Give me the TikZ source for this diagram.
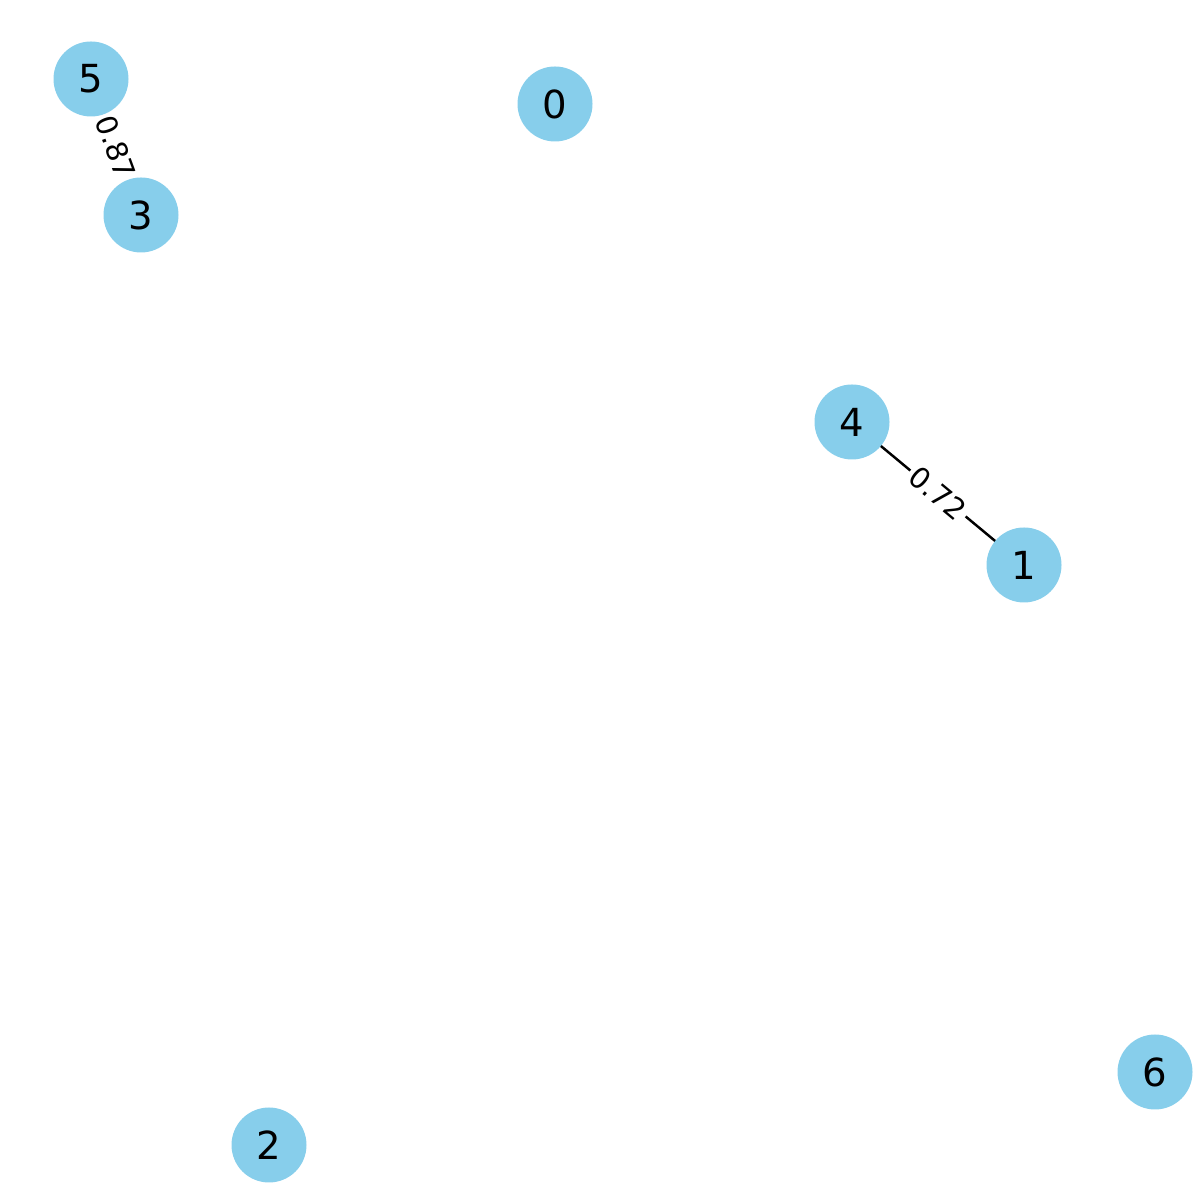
\documentclass[tikz,border=0pt]{standalone}
\usepackage{fontspec}
\setmainfont{DejaVu Sans}
\usepackage{xcolor}
\definecolor{skyblue}{HTML}{87CEEB}
\usetikzlibrary{backgrounds}

\begin{document}
\begin{tikzpicture}
  \tikzstyle{vertex}=[circle,fill=skyblue,minimum size=1.5cm,inner sep=0pt,font=\fontsize{22}{22}\selectfont]
  \tikzstyle{weight}=[fill=white,sloped,inner sep=2pt,font=\fontsize{16.5}{16.5}\selectfont]
  \tikzstyle{link}=[line width=1.4pt,black]
  \useasboundingbox (0,0) rectangle (24,24);
  \node[vertex] (v5) at (1.82,22.42) {5};
  \node[vertex] (v0) at (11.10,21.92) {0};
  \node[vertex] (v3) at (2.82,19.70) {3};
  \node[vertex] (v4) at (17.04,15.56) {4};
  \node[vertex] (v1) at (20.48,12.70) {1};
  \node[vertex] (v6) at (23.10,2.56) {6};
  \node[vertex] (v2) at (5.38,1.10) {2};
  \begin{scope}[on background layer]
    \draw[link] (v5.center) -- node[weight] {0.87} (v3.center);
    \draw[link] (v4.center) -- node[weight] {0.72} (v1.center);
  \end{scope}
\end{tikzpicture}
\end{document}
